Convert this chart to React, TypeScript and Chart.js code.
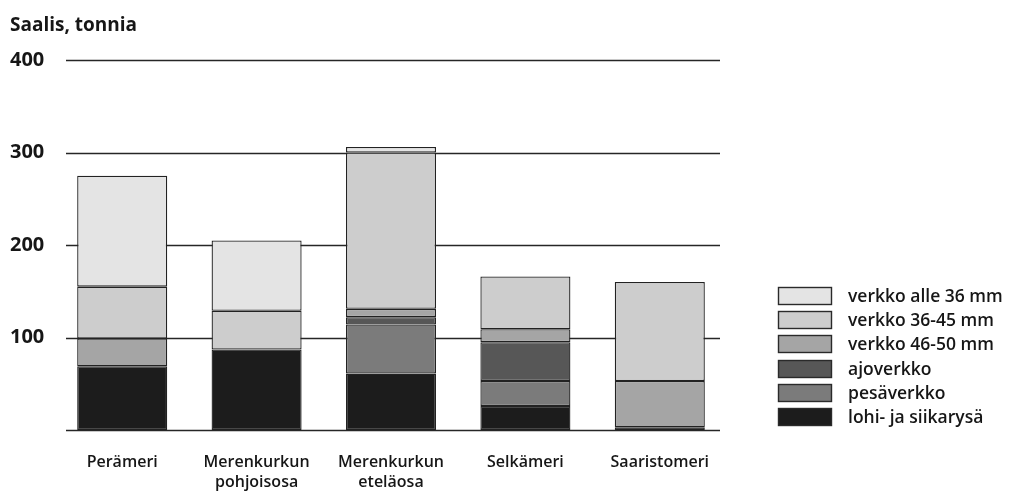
import React, { useEffect, useRef } from "react";
import { Chart, registerables } from "chart.js";

Chart.register(...registerables);

// ---- data ----
const categories: string[][] = [
  ["Perämeri"],
  ["Merenkurkun", "pohjoisosa"],
  ["Merenkurkun", "eteläosa"],
  ["Selkämeri"],
  ["Saaristomeri"],
];
const lohiJaSiikarysa = [69, 87, 61, 26, 3];
const pesaverkko = [0, 0, 53, 27, 0];
const ajoverkko = [0, 0, 8, 42, 0];
const verkko4650 = [30, 0, 9, 14, 50];
const verkko3645 = [56, 42, 169, 57, 107];
const verkkoAlle36 = [120, 76, 6, 0, 0];
const yTicks = [0, 100, 200, 300, 400];
const yTitle = "Saalis, tonnia";

const FONT = "'Open Sans', 'DejaVu Sans', sans-serif";
const TEXT = "#161616";

const series = [
  { label: "lohi- ja siikarysä", data: lohiJaSiikarysa, color: "#1c1c1c" },
  { label: "pesäverkko", data: pesaverkko, color: "#7b7b7b" },
  { label: "ajoverkko", data: ajoverkko, color: "#575757" },
  { label: "verkko 46-50 mm", data: verkko4650, color: "#a5a5a5" },
  { label: "verkko 36-45 mm", data: verkko3645, color: "#cdcdcd" },
  { label: "verkko alle 36 mm", data: verkkoAlle36, color: "#e4e4e4" },
];

const gridPlugin = {
  id: "customGrid",
  beforeDatasetsDraw(chart: any) {
    const { ctx, chartArea, scales } = chart;
    const y = scales.y;
    ctx.save();
    ctx.strokeStyle = "#262626";
    ctx.lineWidth = 1.5;
    yTicks.forEach((v) => {
      const py = Math.round(y.getPixelForValue(v)) + 0.5;
      ctx.beginPath();
      ctx.moveTo(chartArea.left + 11, py);
      ctx.lineTo(chartArea.right - 7, py);
      ctx.stroke();
    });
    ctx.restore();
  },
};

const titleLegendPlugin = {
  id: "titleLegend",
  afterDraw(chart: any) {
    const { ctx } = chart;
    ctx.save();
    // axis title
    ctx.fillStyle = TEXT;
    ctx.font = `700 19px ${FONT}`;
    ctx.textBaseline = "alphabetic";
    ctx.textAlign = "left";
    ctx.fillText(yTitle, 10, 31);
    // legend (top item = last dataset)
    const ds = chart.data.datasets;
    const n = ds.length;
    const boxX = 778;
    const boxW = 54;
    const boxH = 18;
    const top = 287;
    const step = 24.2;
    ctx.font = `600 17.5px ${FONT}`;
    ctx.textBaseline = "middle";
    for (let i = 0; i < n; i++) {
      const d = ds[n - 1 - i];
      const by = Math.round(top + i * step);
      ctx.fillStyle = d.backgroundColor;
      ctx.fillRect(boxX, by, boxW, boxH);
      ctx.strokeStyle = "#2a2a2a";
      ctx.lineWidth = 1.4;
      ctx.strokeRect(boxX + 0.5, by + 0.5, boxW - 1, boxH - 1);
      ctx.fillStyle = TEXT;
      ctx.fillText(d.label, boxX + boxW + 16, by + boxH / 2 + 1);
    }
    ctx.restore();
  },
};

export default function App() {
  const ref = useRef<HTMLCanvasElement | null>(null);
  useEffect(() => {
    if (!ref.current) return;
    const chart = new Chart(ref.current, {
      type: "bar",
      data: {
        labels: categories,
        datasets: series.map((s) => ({
          label: s.label,
          data: s.data,
          backgroundColor: s.color,
          borderColor: "#222",
          borderWidth: 1.3,
          borderSkipped: false,
          categoryPercentage: 1,
          barPercentage: 0.67,
        })),
      },
      options: {
        animation: false,
        responsive: false,
        maintainAspectRatio: false,
        layout: { padding: { left: 10, right: 288, top: 60, bottom: 0 } },
        plugins: {
          legend: { display: false },
          title: { display: false },
          tooltip: { enabled: false },
        },
        scales: {
          x: {
            stacked: true,
            grid: { display: false, drawTicks: false },
            border: { display: false },
            ticks: {
              color: TEXT,
              font: { family: FONT, size: 16, weight: "600" as any, lineHeight: 1.25 },
              padding: 22,
              maxRotation: 0,
              autoSkip: false,
            },
            afterFit(scale: any) {
              scale.height = 61;
            },
          },
          y: {
            stacked: true,
            min: 0,
            max: 400,
            grid: { display: false, drawTicks: false },
            border: { display: false },
            ticks: {
              stepSize: 100,
              color: TEXT,
              crossAlign: "far",
              padding: 0,
              font: { family: FONT, size: 20, weight: "700" as any },
              callback: (v: any) => (Number(v) === 0 ? "" : String(v)),
            },
            afterFit(scale: any) {
              scale.width = 45;
            },
          },
        },
      },
      plugins: [gridPlugin, titleLegendPlugin],
    });
    return () => chart.destroy();
  }, []);
  return (
    <div style={{ position: "absolute", left: 0, top: 0, width: 1015, height: 491, background: "#fff" }}>
      <canvas ref={ref} width={1015} height={491} style={{ width: 1015, height: 491, display: "block" }} />
    </div>
  );
}
